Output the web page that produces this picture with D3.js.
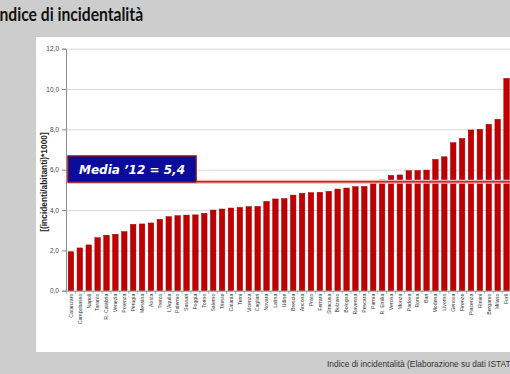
<!DOCTYPE html>
<html>
<head>
<meta charset="utf-8">
<script src="https://cdn.jsdelivr.net/npm/d3@7"></script>
<style>
  html, body { margin: 0; padding: 0; background: #cdcdcd; }
  svg { display: block; }
</style>
</head>
<body>
<div id="chart"></div>
<script>
'use strict';

// data
const cities = ["Catanzaro", "Campobasso", "Napoli", "Taranto", "R. Calabria", "Venezia", "Potenza",
  "Perugia", "Messina", "Aosta", "Trento", "L'Aquila", "Palermo", "Sassari", "Foggia", "Torino",
  "Salerno", "Trieste", "Catania", "Terni", "Vicenza", "Cagliari", "Novara", "Latina", "Udine",
  "Brescia", "Ancona", "Prato", "Ferrara", "Siracusa", "Bolzano", "Bologna", "Ravenna", "Pescara",
  "Parma", "R. Emilia", "Verona", "Monza", "Padova", "Roma", "Bari", "Modena", "Livorno", "Genova",
  "Firenze", "Piacenza", "Rimini", "Bergamo", "Milano", "Forlì"];

const values = [1.93, 2.12, 2.27, 2.63, 2.75, 2.80, 2.93,
  3.29, 3.31, 3.36, 3.54, 3.67, 3.72, 3.75, 3.76, 3.84,
  4.00, 4.05, 4.10, 4.13, 4.17, 4.18, 4.43, 4.55, 4.57,
  4.74, 4.83, 4.86, 4.88, 4.93, 5.04, 5.09, 5.16, 5.17,
  5.35, 5.49, 5.72, 5.74, 5.95, 5.96, 5.98, 6.51, 6.64, 7.34,
  7.55, 7.97, 8.00, 8.25, 8.50, 10.53];

const yTicks = [0, 2, 4, 6, 8, 10, 12];
const media = 5.4;
const mediaLabel = "Media \u201912 = 5,4";

const title = "Indice di incidentalità";
const yTitle = "[(incidenti/abitanti)*1000]";
const source = "Indice di incidentalità (Elaborazione su dati ISTAT)";

const width = 510, height = 374;

const itFormat = d3.formatLocale({decimal: ",", thousands: ".", grouping: [3], currency: ["", "€"]}).format(".1f");

const svg = d3.select('#chart').append('svg')
    .attr('width', width)
    .attr('height', height);

// title (cut at the left edge, as in the slide)
svg.append('text')
    .text(title)
    .attr('transform', 'translate(-5,21) scale(0.87,1)')
    .style('font-family', 'Lato, "Open Sans", sans-serif')
    .style('font-weight', 'bold')
    .style('font-size', '18px')
    .style('fill', '#111');

// white panel
svg.append('rect')
    .attr('x', 36)
    .attr('y', 37)
    .attr('width', 480)
    .attr('height', 315)
    .style('fill', '#ffffff');

// source note
svg.append('text')
    .text(source)
    .attr('x', 327)
    .attr('y', 367)
    .style('font-family', '"Liberation Sans", Arial, sans-serif')
    .style('font-size', '8.4px')
    .style('fill', '#333');

let x = d3.scaleBand()
    .domain(cities)
    .range([66.5, 511])
    .paddingInner(0.38)
    .paddingOuter(0.19);

let y = d3.scaleLinear()
    .domain([0, 12])
    .range([290.7, 48.7]);

// gridlines
svg.append('g')
    .attr('transform', 'translate(66,0)')
    .call(d3.axisLeft(y).tickValues(yTicks.slice(1)).tickSize(-450).tickFormat(''))
    .call(g => g.select('.domain').remove())
    .selectAll('line')
    .style('stroke', '#dadada')
    .style('stroke-width', 1);

// y axis
let yAxis = svg.append('g')
    .attr('transform', 'translate(66,0)')
    .call(d3.axisLeft(y).tickValues(yTicks).tickSize(4).tickPadding(3).tickFormat(itFormat));

yAxis.select('.domain').style('stroke', '#8c8c8c');
yAxis.selectAll('line').style('stroke', '#8c8c8c');
yAxis.selectAll('text')
    .style('font-family', '"Liberation Sans", Arial, sans-serif')
    .style('font-size', '6.5px')
    .style('fill', '#444');

svg.append('text')
    .text(yTitle)
    .attr('transform', 'translate(47,182) rotate(-90)')
    .style('text-anchor', 'middle')
    .style('font-family', '"Liberation Sans", Arial, sans-serif')
    .style('font-weight', 'bold')
    .style('font-size', '8.4px')
    .style('fill', '#222');

// bars
svg.append('g').selectAll('rect')
    .data(values)
    .enter().append('rect')
    .attr('x', (d, i) => x(cities[i]))
    .attr('width', x.bandwidth())
    .attr('y', d => y(d))
    .attr('height', d => y(0) - y(d))
    .style('fill', '#c00000')
    .style('stroke', '#a00000')
    .style('stroke-width', 0.5);

// x axis
let xAxis = svg.append('g')
    .attr('transform', 'translate(0,' + y(0) + ')')
    .call(d3.axisBottom(x).tickSize(0).tickPadding(3));

xAxis.select('.domain').style('stroke', '#8c8c8c');
xAxis.selectAll('text')
    .attr('transform', 'rotate(-90)')
    .attr('x', -3)
    .attr('y', 0)
    .attr('dy', '0.35em')
    .style('text-anchor', 'end')
    .style('font-family', '"Liberation Sans Narrow", "Liberation Sans", Arial, sans-serif')
    .style('font-size', '5.2px')
    .style('fill', '#333');

// small ticks between bars
svg.append('g').selectAll('line')
    .data(cities)
    .enter().append('line')
    .attr('x1', d => x(d) - x.step() * x.paddingInner() / 2)
    .attr('x2', d => x(d) - x.step() * x.paddingInner() / 2)
    .attr('y1', y(0))
    .attr('y2', y(0) + 3)
    .style('stroke', '#8c8c8c')
    .style('stroke-width', 0.7);

// media line
svg.append('line')
    .attr('x1', 68)
    .attr('x2', 511)
    .attr('y1', y(media))
    .attr('y2', y(media))
    .style('stroke', '#f4b4b4')
    .style('stroke-width', 4);

svg.append('line')
    .attr('x1', 68)
    .attr('x2', 511)
    .attr('y1', y(media))
    .attr('y2', y(media))
    .style('stroke', '#d81818')
    .style('stroke-width', 1.5);

// media label box
svg.append('rect')
    .attr('x', 69)
    .attr('y', 158)
    .attr('width', 128)
    .attr('height', 26)
    .style('fill', '#f2b8b8');

svg.append('rect')
    .attr('x', 68)
    .attr('y', 156)
    .attr('width', 128)
    .attr('height', 26)
    .style('fill', '#0c0c9c')
    .style('stroke', '#7a1020')
    .style('stroke-width', 1.5);

svg.append('text')
    .text(mediaLabel)
    .attr('x', 132)
    .attr('y', 174)
    .style('text-anchor', 'middle')
    .style('font-family', '"DejaVu Sans", Verdana, sans-serif')
    .style('font-weight', 'bold')
    .style('font-style', 'italic')
    .style('font-size', '12px')
    .style('fill', '#ffffff');
</script>
</body>
</html>
